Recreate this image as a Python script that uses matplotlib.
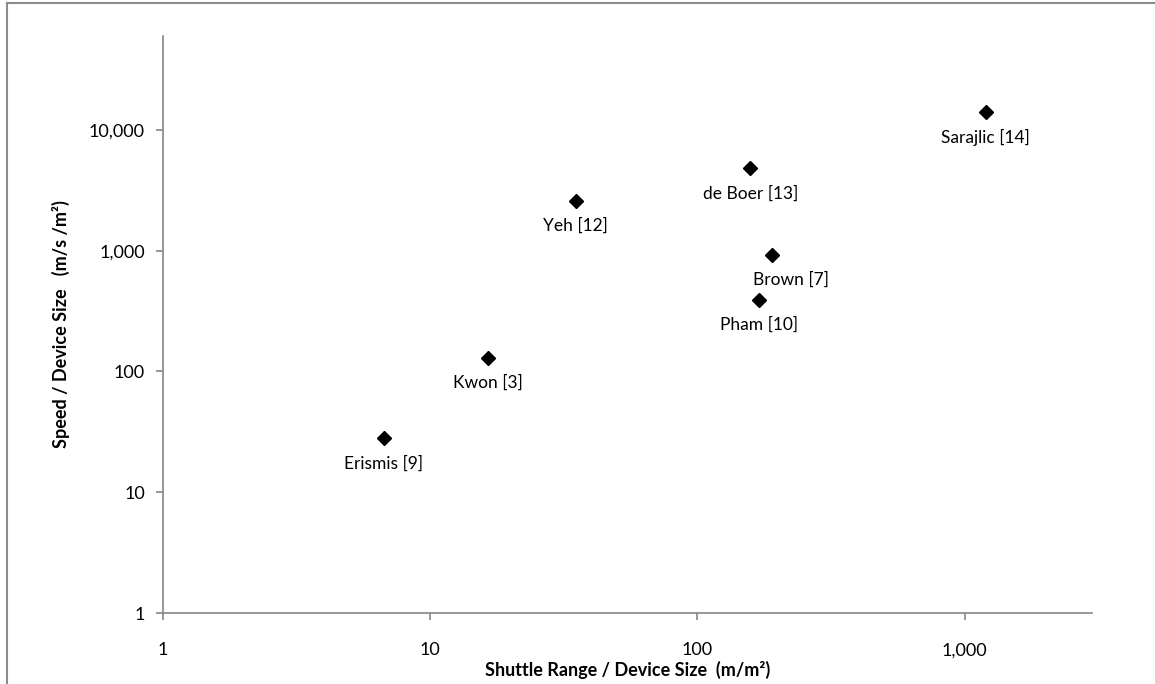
import matplotlib
matplotlib.use("Agg")
import matplotlib.pyplot as plt
from matplotlib.ticker import FuncFormatter, FixedLocator, NullLocator
from matplotlib.lines import Line2D

plt.rcParams['font.family'] = ['Lato', 'DejaVu Sans']

# Devices: shuttle range and speed, both normalised by device size
names = ["Erismis [9]", "Kwon [3]", "Yeh [12]", "de Boer [13]",
         "Brown [7]", "Pham [10]", "Sarajlic [14]"]
range_per_size = [6.7, 16.5, 35, 158, 190, 170, 1200]
speed_per_size = [28, 130, 2600, 4800, 930, 390, 14000]

# label nudges (points) so they sit under each marker
label_dx = [0, 0, 0, 0, 14, 0, 0]

fig = plt.figure(figsize=(11.55, 6.84), dpi=100)
ax = fig.add_axes([163 / 1155, 1 - 613 / 684, (1092 - 163) / 1155, (613 - 36) / 684])

ax.plot(range_per_size, speed_per_size, linestyle='none', marker='D',
        markersize=7.5, color='black')

for name, x, y, dx in zip(names, range_per_size, speed_per_size, label_dx):
    ax.annotate(name, (x, y), xytext=(dx, -18), textcoords='offset points',
                ha='center', va='center', fontsize=12.5)

ax.set_xscale('log')
ax.set_yscale('log')
ax.set_xlim(1, 3000)
ax.set_ylim(1, 60000)

ax.xaxis.set_major_locator(FixedLocator([1, 10, 100, 1000]))
ax.yaxis.set_major_locator(FixedLocator([1, 10, 100, 1000, 10000]))
ax.xaxis.set_minor_locator(NullLocator())
ax.yaxis.set_minor_locator(NullLocator())
fmt = FuncFormatter(lambda v, pos: f"{v:,.0f}")
ax.xaxis.set_major_formatter(fmt)
ax.yaxis.set_major_formatter(fmt)

axis_grey = '#868686'
for side in ['top', 'right']:
    ax.spines[side].set_visible(False)
for side in ['left', 'bottom']:
    ax.spines[side].set_color(axis_grey)
    ax.spines[side].set_linewidth(1.2)
ax.tick_params(axis='both', direction='out', length=5, width=1.2,
               color=axis_grey, labelsize=13, labelcolor='black')
ax.tick_params(axis='x', pad=16)
ax.tick_params(axis='y', pad=8)

ax.set_xlabel("Shuttle Range / Device Size  (m/m²)", fontsize=13,
              fontweight='bold', labelpad=2)
ax.set_ylabel("Speed / Device Size   (m/s /m²)", fontsize=13,
              fontweight='bold', labelpad=14)

# chart frame
fig.add_artist(Line2D([7 / 1155, 7 / 1155], [0, 1 - 3 / 684],
                      color='#8c8c8c', linewidth=1.5))
fig.add_artist(Line2D([7 / 1155, 1], [1 - 3 / 684, 1 - 3 / 684],
                      color='#8c8c8c', linewidth=1.5))

fig.savefig("out.png", dpi=100)
